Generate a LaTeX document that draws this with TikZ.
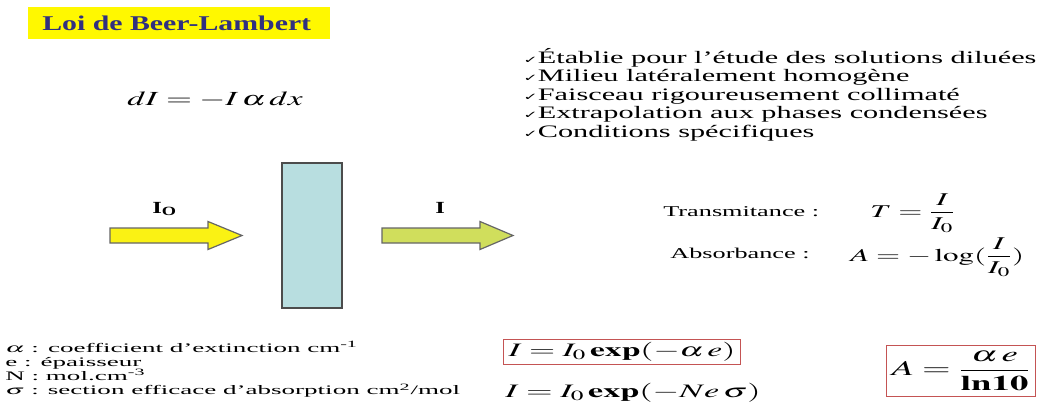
\documentclass[tikz,border=0pt]{standalone}
\usepackage{amsmath}
\usepackage{mathptmx}
\usepackage[no-math]{fontspec}
\setmainfont{Liberation Serif}
\newfontfamily\checkfont{DejaVu Sans}
\usetikzlibrary{math}
\definecolor{titleblue}{RGB}{48,48,128}
\definecolor{titleyellow}{RGB}{255,248,0}
\definecolor{beamyellow}{RGB}{250,242,20}
\definecolor{beamgreen}{RGB}{208,222,92}
\definecolor{cellblue}{RGB}{184,222,224}
\definecolor{boxred}{RGB}{196,84,84}
\newcommand{\chk}{{\checkfont\fontsize{10}{10}\selectfont ✓}}

\begin{document}
\begin{tikzpicture}[x=1pt,y=-1pt,
  wide/.style={xscale=#1}, wide/.default=1.75,
  txt/.style={inner sep=0pt, anchor=west},
  beam/.style={draw=black!60, line width=1.2pt, line join=miter},
  eqbox/.style={draw=boxred, line width=0.8pt, inner sep=3pt}]
\tikzmath{
\yb=235.5;
\s=7.5;
\h=14;
}
\useasboundingbox (0,0) rectangle (1043,409);

% title
\fill[titleyellow] (28,7) rectangle (330,39);
\node[txt, wide=1.42, anchor=base west, text=titleblue, font=\fontsize{21}{25}\selectfont\bfseries] (title) at (42,31) {Loi de Beer-Lambert};

\node[txt, wide=1.73, anchor=north west, align=left, font=\fontsize{17.5}{18.5}\selectfont] (hyp) at (523,48)
  {\chk Établie pour l’étude des solutions diluées\\
   \chk Milieu latéralement homogène\\
   \chk Faisceau rigoureusement collimaté\\
   \chk Extrapolation aux phases condensées\\
   \chk Conditions spécifiques};

\node[txt, wide=1.67, font=\fontsize{20}{24}\selectfont] (dI) at (127,99) {$dI = -I\,\alpha\, dx$};

% beams and cell
\filldraw[beam, fill=beamyellow] (110,\yb-\s) -- (208,\yb-\s) -- (208,\yb-\h) -- (242,\yb)
  -- (208,\yb+\h) -- (208,\yb+\s) -- (110,\yb+\s) -- cycle;
\filldraw[beam, fill=beamgreen] (382,\yb-\s) -- (480,\yb-\s) -- (480,\yb-\h) -- (513,\yb)
  -- (480,\yb+\h) -- (480,\yb+\s) -- (382,\yb+\s) -- cycle;
\filldraw[fill=cellblue, draw=black!70, line width=1.3pt] (282,163) rectangle (342,308);

\node[txt, wide=1.45, anchor=base west, font=\fontsize{17}{20}\selectfont\bfseries] (I0) at (152,213) {I\textsubscript{O}};
\node[txt, wide=1.45, anchor=base west, font=\fontsize{17}{20}\selectfont\bfseries] (I) at (435,213) {I};

\node[txt, wide, font=\fontsize{15}{18}\selectfont] (trans) at (663,212) {Transmitance :};
\node[txt, wide, font=\fontsize{15}{18}\selectfont] (absb) at (670,253) {Absorbance :};
\node[txt, wide=1.72, font=\fontsize{18}{22}\selectfont] (Teq) at (870,213) {$T = \dfrac{I}{I_0}$};
\node[txt, wide=1.72, font=\fontsize{18}{22}\selectfont] (Aeq) at (850,257) {$A = -\log(\dfrac{I}{I_0})$};

% bottom
\node[txt, wide=2.08, anchor=north west, align=left, font=\fontsize{13}{14.2}\selectfont] (defs) at (5,341)
  {$\alpha$ : coefficient d’extinction cm\textsuperscript{-1}\\
   e : épaisseur\\
   N : mol.cm\textsuperscript{-3}\\
   $\sigma$ : section efficace d’absorption cm\textsuperscript{2}/mol};

\node[eqbox, wide=1.77, font=\fontsize{19}{22}\selectfont] (law) at (622,352) {$I = I_0\,\mathbf{exp}(-\alpha\, e)$};
\node[txt, wide=1.8, font=\fontsize{19}{22}\selectfont] (lawN) at (505,393) {$I = I_0\,\mathbf{exp}(-N e\,\sigma)$};
\node[eqbox, wide, inner ysep=6pt, font=\fontsize{21}{24}\selectfont] (Aln) at (961,371) {$A = \dfrac{\alpha\, e}{\mathbf{ln10}}$};
\end{tikzpicture}
\end{document}
